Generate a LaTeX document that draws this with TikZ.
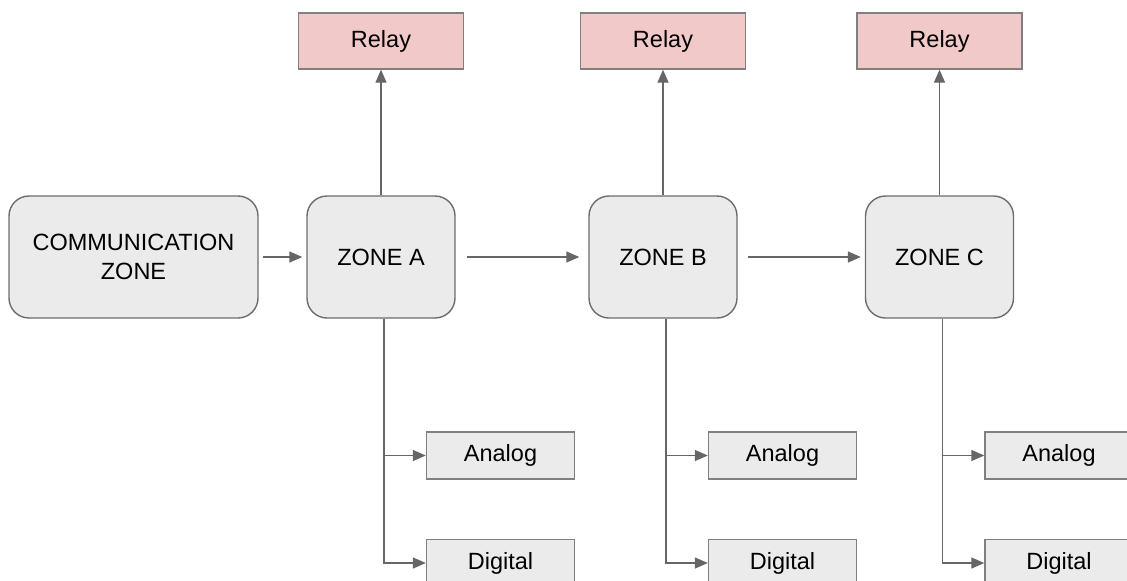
\documentclass[tikz,border=0pt]{standalone}
\usepackage{fontspec}
\setmainfont{Liberation Sans}
\usetikzlibrary{arrows.meta}

\definecolor{relayfill}{HTML}{F2C9C9}
\definecolor{zonefill}{HTML}{EBEBEB}
\definecolor{edgegray}{HTML}{808080}
\definecolor{linegray}{HTML}{666666}

\tikzset{
  boxtext/.style={font=\fontsize{11.75}{14.5}\selectfont, text=black, inner sep=0pt, align=center},
  relaybox/.style={boxtext, draw=edgegray, fill=relayfill, line width=0.7pt,
    minimum width=82.5pt, minimum height=28pt},
  zonebox/.style={boxtext, draw=edgegray!85!black, fill=zonefill, line width=0.7pt,
    rounded corners=10pt, minimum width=74pt, minimum height=61pt},
  iobox/.style={boxtext, draw=edgegray, fill=zonefill, line width=0.7pt,
    minimum width=74pt, minimum height=23.5pt},
  flow/.style={draw=linegray, line width=0.7pt, -{Triangle[length=6.5pt,width=5.5pt]}}
}

\begin{document}
\begin{tikzpicture}[x=0.5pt, y=-0.5pt]
    \useasboundingbox (0,0) rectangle (1127,580);
    \clip (0,0) rectangle (1127,580);
    \node[zonebox, minimum width=124.5pt] (comm) at (133.5,257) {COMMUNICATION\\ZONE};
    % one column for each zone
    \foreach \z/\x in {A/381, B/663, C/939.5}
    {
      \node[relaybox] (relay\z) at (\x,41) {\raisebox{-1pt}{Relay}};
      \node[zonebox] (zone\z) at (\x,257) {ZONE \z};
      \node[iobox] (analog\z) at (\x+119.5,455.5) {\raisebox{-1pt}{Analog}};
      \node[iobox] (digital\z) at (\x+119.5,563) {\raisebox{-1.5pt}{Digital}};
      \draw[flow] (zone\z.north) -- (relay\z.south);
      \draw[flow] ([xshift=1.5pt]zone\z.south) |- (analog\z.west);
      \draw[flow] ([xshift=1.5pt]zone\z.south) |- (digital\z.west);
    }
    \draw[flow, shorten <=2pt, shorten >=2pt] (comm) -- (zoneA);
    \draw[flow, shorten <=5.5pt, shorten >=4.5pt] (zoneA) -- (zoneB);
    \draw[flow, shorten <=5pt, shorten >=2pt] (zoneB) -- (zoneC);
\end{tikzpicture}
\end{document}
